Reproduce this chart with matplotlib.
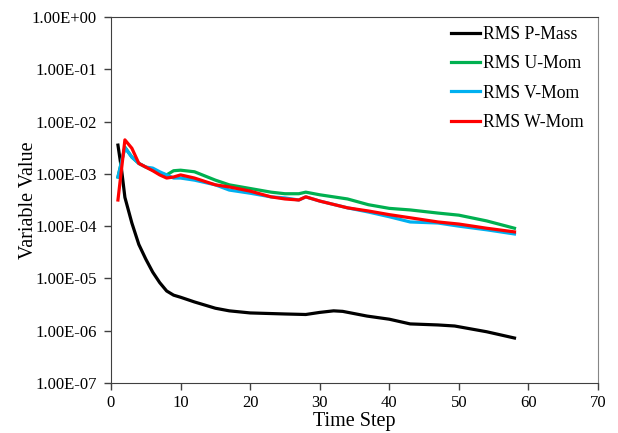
import numpy as np
import matplotlib
matplotlib.use("Agg")
import matplotlib.pyplot as plt
from matplotlib.ticker import FixedLocator, FuncFormatter

plt.rcParams['font.family'] = ['Liberation Serif', 'DejaVu Serif']

# values (log10 of the residual)
p_steps = [1, 1.5, 2, 3, 4, 5, 6, 7, 8, 9, 10, 12, 15, 17, 20, 25, 28, 30, 32, 33.3, 36.8, 40, 43, 47, 49.4, 54, 58]
p_mass = [-2.45, -2.90, -3.45, -3.94, -4.35, -4.63, -4.88, -5.08, -5.24, -5.32, -5.36, -5.45, -5.57, -5.62,
          -5.66, -5.68, -5.69, -5.65, -5.62, -5.63, -5.72, -5.78, -5.87, -5.89, -5.91, -6.02, -6.14]

steps = [1, 2, 3, 4, 5, 6, 7, 8, 9, 10, 12, 15, 17, 20, 23, 25, 27, 28, 30, 34, 37, 40, 43, 47, 50, 54, 58]
u_mom = [-3.06, -2.49, -2.68, -2.80, -2.87, -2.93, -2.99, -3.02, -2.94, -2.93, -2.96, -3.12, -3.21, -3.28,
         -3.35, -3.38, -3.38, -3.35, -3.40, -3.48, -3.59, -3.66, -3.69, -3.75, -3.79, -3.90, -4.04]
v_mom = [-3.06, -2.50, -2.68, -2.80, -2.87, -2.89, -2.96, -3.02, -3.08, -3.08, -3.12, -3.21, -3.31, -3.37,
         -3.44, -3.46, -3.50, -3.44, -3.52, -3.65, -3.73, -3.82, -3.92, -3.94, -4.00, -4.07, -4.15]
w_mom = [-3.50, -2.35, -2.51, -2.80, -2.87, -2.94, -3.02, -3.08, -3.06, -3.02, -3.08, -3.21, -3.25, -3.33,
         -3.44, -3.48, -3.50, -3.44, -3.52, -3.65, -3.71, -3.78, -3.84, -3.92, -3.96, -4.04, -4.11]

fig = plt.figure(figsize=(6.18, 4.33), dpi=100)
ax = fig.add_axes([0.1796, 0.1155, 0.788, 0.8452])

ax.plot(p_steps, 10 ** np.array(p_mass), color='black', lw=2.3, label='RMS P-Mass')
ax.plot(steps, 10 ** np.array(u_mom), color='#00b050', lw=2.3, label='RMS U-Mom')
ax.plot(steps, 10 ** np.array(v_mom), color='#00b0f0', lw=2.3, label='RMS V-Mom')
ax.plot(steps, 10 ** np.array(w_mom), color='#ff0000', lw=2.3, label='RMS W-Mom')

ax.set_yscale('log')
ax.set_ylim(1e-7, 1)
ax.set_xlim(0, 70)
ax.xaxis.set_major_locator(FixedLocator(range(0, 71, 10)))
ax.yaxis.set_major_locator(FixedLocator([10.0 ** k for k in range(-7, 1)]))
ax.yaxis.set_minor_locator(FixedLocator([]))
ax.yaxis.set_major_formatter(FuncFormatter(lambda v, p: "1.00E%+03d" % round(np.log10(v))))

ax.tick_params(axis='both', direction='out', length=5, width=1, labelsize=12, colors='#404040',
               labelcolor='black')
ax.tick_params(axis='y', pad=5)
for side in ['left', 'bottom', 'top']:
    ax.spines[side].set_color('#404040')
ax.spines['right'].set_color('#868686')

ax.set_xlabel('Time Step', fontsize=14.5, labelpad=1)
ax.set_ylabel('Variable Value', fontsize=14.5, labelpad=-4)

ax.legend(loc='upper right', bbox_to_anchor=(0.988, 1.0), frameon=False, fontsize=12.7,
          handlelength=1.65, handletextpad=0.15, labelspacing=0.7, borderaxespad=0.1)

fig.savefig('out.png', dpi=100)
